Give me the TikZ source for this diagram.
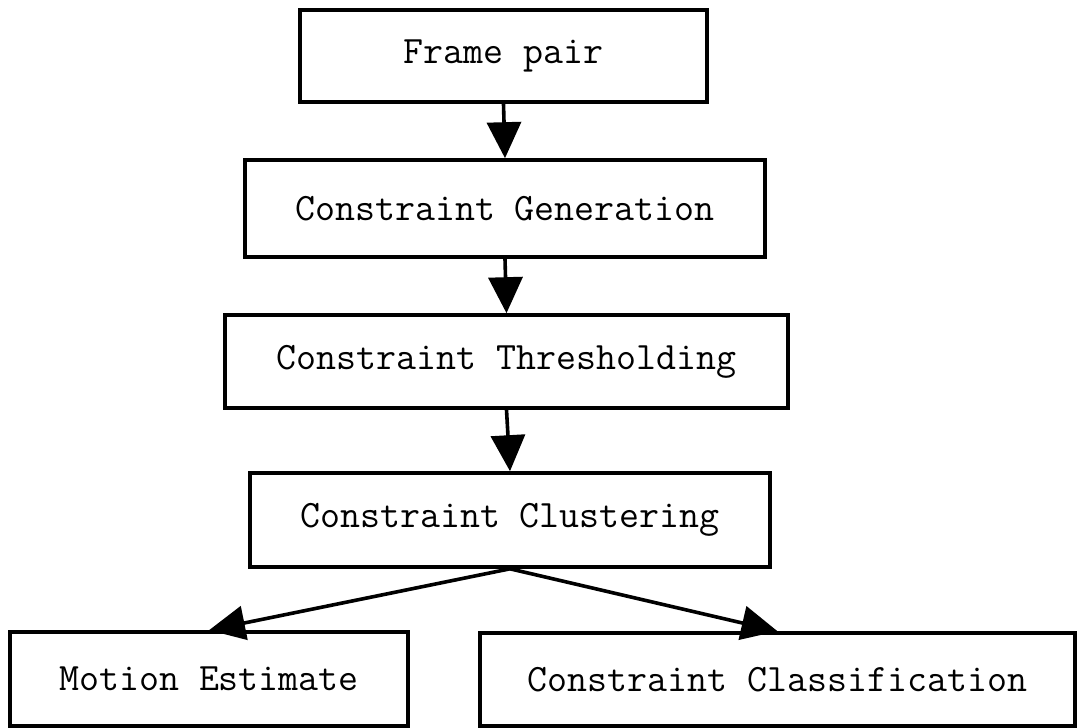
\documentclass[tikz,border=0pt]{standalone}
\usetikzlibrary{arrows.meta, positioning, calc}

\begin{document}
\begin{tikzpicture}[
    x=0.5pt, y=-0.5pt,
    stage/.style={
        draw=black, line width=1.8pt, fill=white,
        inner sep=0pt, align=center, font=\ttfamily\fontsize{19.4}{22}\selectfont
    },
    arrow/.style={-{Triangle[length=18pt, width=17pt]}, line width=1.8pt, draw=black}
]
\useasboundingbox (0,0) rectangle (1078,728);

% Pipeline stages, top to bottom
\node[stage, minimum width=203.5pt, minimum height=46pt] (frames) at (503.5,56) {Frame pair};
\node[stage, minimum width=260pt, minimum height=48.5pt] (generate) at (505,208.5) {Constraint Generation};
\node[stage, minimum width=281.5pt, minimum height=46.5pt] (threshold) at (506.5,361.5) {Constraint Thresholding};
\node[stage, minimum width=260pt, minimum height=47pt] (cluster) at (510,520) {Constraint Clustering};

% Two outputs
\node[stage, minimum width=199pt, minimum height=47pt] (motion) at (209,679) {Motion Estimate};
\node[stage, minimum width=297.5pt, minimum height=46.5pt] (classify) at (777.5,679.5) {Constraint Classification};

% Arrows
\draw[arrow] (frames.south) -- (generate.north);
\draw[arrow] (generate.south) -- (threshold.north);
\draw[arrow] (threshold.south) -- (cluster.north);
\draw[arrow] (cluster.south) -- (motion.north);
\draw[arrow] (cluster.south) -- (classify.north);

\end{tikzpicture}
\end{document}
